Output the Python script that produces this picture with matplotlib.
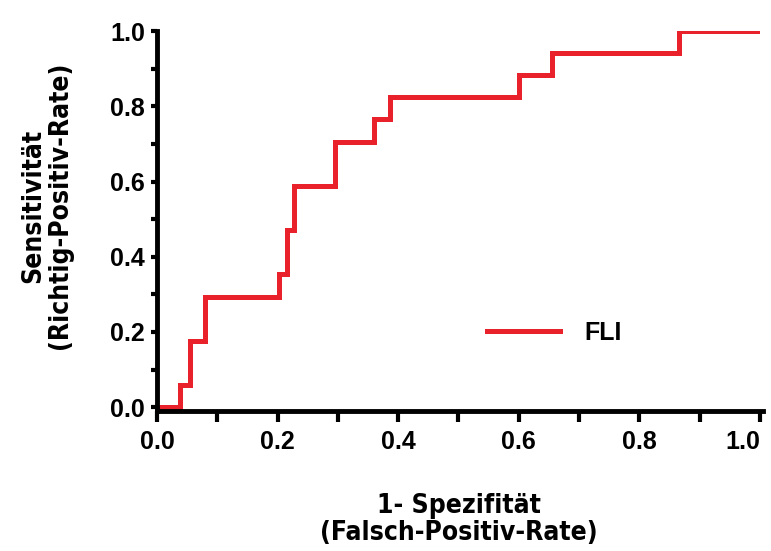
import numpy as np
import matplotlib.pyplot as plt
from matplotlib.ticker import MultipleLocator

# Data ------------------------------------------
fpr = [0.0, 0.038, 0.055, 0.080, 0.203, 0.216, 0.228, 0.295, 0.360, 0.387, 0.600, 0.655, 0.866, 1.0]
tpr = [0.0, 0.059, 0.176, 0.294, 0.353, 0.471, 0.588, 0.706, 0.765, 0.824, 0.882, 0.941, 1.0, 1.0]
series_name = 'FLI'
x_ticks = [0.0, 0.2, 0.4, 0.6, 0.8, 1.0]
y_ticks = [0.0, 0.2, 0.4, 0.6, 0.8, 1.0]
# -----------------------------------------------

RED = '#e8212b'
tick_font = {'family': 'Liberation Sans', 'weight': 'bold', 'size': 18}
label_font = {'family': 'DejaVu Sans', 'stretch': 'condensed', 'weight': 'bold', 'size': 19}

fig = plt.figure(figsize=(7.71, 5.51), dpi=100)
ax = fig.add_axes([0.2036, 0.2541, 0.7821, 0.6896])

ax.step(fpr, tpr, where='post', color=RED, lw=3.6, solid_joinstyle='miter', label=series_name)

ax.set_xlim(0, 1.0)
ax.set_ylim(-0.01, 1.0)
ax.set_xticks(x_ticks)
ax.set_yticks(y_ticks)
ax.set_xticklabels(['%.1f' % v for v in x_ticks], fontdict=tick_font)
ax.set_yticklabels(['%.1f' % v for v in y_ticks], fontdict=tick_font)
ax.get_xticklabels()[-1].set_horizontalalignment('right')
ax.xaxis.set_minor_locator(MultipleLocator(0.1))
ax.yaxis.set_minor_locator(MultipleLocator(0.1))
ax.tick_params(axis='x', which='both', direction='out', length=8, width=3, pad=6)
ax.tick_params(axis='y', which='both', direction='out', length=4.5, width=3, pad=4)

for s in ['top', 'right']:
    ax.spines[s].set_visible(False)
for s in ['left', 'bottom']:
    ax.spines[s].set_linewidth(3.5)
ax.spines['bottom'].set_bounds(0, 1.005)

ax.set_xlabel('1- Spezifität\n(Falsch-Positiv-Rate)', fontdict=label_font, labelpad=28, linespacing=1.05)
ax.set_ylabel('Sensitivität\n(Richtig-Positiv-Rate)', fontdict=label_font, linespacing=1.0)
ax.yaxis.set_label_coords(-0.14, 0.54)

leg = ax.legend(loc='center left', bbox_to_anchor=(0.51, 0.205), frameon=False, handlelength=2.9,
                handletextpad=1.0, prop={'family': 'Liberation Sans', 'weight': 'bold', 'size': 18})

fig.savefig('out.png', dpi=100)
